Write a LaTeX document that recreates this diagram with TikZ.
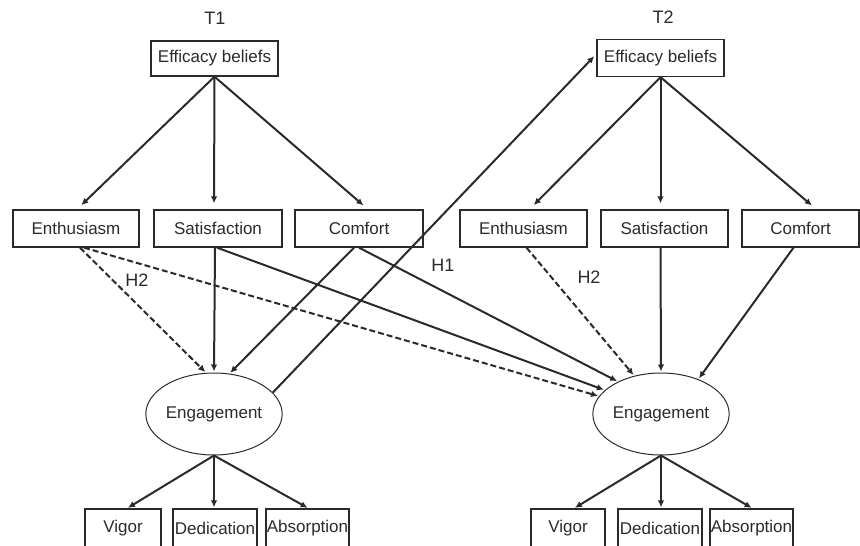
\documentclass[tikz,border=0pt]{standalone}
\usepackage{fontspec}
\setmainfont{Liberation Sans}
\usetikzlibrary{shapes.geometric,arrows.meta}
\definecolor{ink}{HTML}{2A2A2A}
\begin{document}
\begin{tikzpicture}[x=1pt,y=-1pt,
  every node/.style={font=\fontsize{17}{20}\selectfont, text=ink},
  box/.style={draw=ink, line width=1.3pt, rectangle, inner sep=0pt},
  eng/.style={draw=ink, line width=1pt, ellipse, inner sep=0pt, minimum width=134pt, minimum height=82pt},
  lbl/.style={font=\fontsize{18}{20}\selectfont},
  arr/.style={draw=ink, line width=2pt, -{Latex[length=7pt,width=6.5pt]}, shorten >=1pt},
  darr/.style={arr, dash pattern=on 6pt off 3pt}]
\useasboundingbox (0,0) rectangle (860,546);
\clip (0,0) rectangle (860,546);
% titles
\node[lbl] (t1) at (215,18) {T1};
\node[lbl] (t2) at (663,17) {T2};
% efficacy
\node[box, minimum width=127pt, minimum height=35pt] (eff1) at (214.5,58.5) {Efficacy beliefs};
\node[box, minimum width=127pt, minimum height=37pt] (eff2) at (660.5,58) {Efficacy beliefs};
% row 2 T1
\node[box, minimum width=126pt, minimum height=37pt] (en1) at (76,228.5) {Enthusiasm};
\node[box, minimum width=128pt, minimum height=37pt] (sa1) at (218,228.5) {Satisfaction};
\node[box, minimum width=128pt, minimum height=37pt] (co1) at (359,228.5) {Comfort};
% row 2 T2
\node[box, minimum width=127pt, minimum height=37pt] (en2) at (523.5,228.5) {Enthusiasm};
\node[box, minimum width=127pt, minimum height=37pt] (sa2) at (664.5,228.5) {Satisfaction};
\node[box, minimum width=117pt, minimum height=37pt] (co2) at (800.5,228.5) {Comfort};
% engagement
\node[eng] (eng1) at (214,414) {Engagement};
\node[eng] (eng2) at (661,414) {Engagement};
% indicators
\node[box, minimum width=76pt, minimum height=38pt] (vi1) at (123,528) {Vigor};
\node[box, minimum width=84pt, minimum height=38pt] (de1) at (215,528) {Dedication};
\node[box, minimum width=83pt, minimum height=38pt] (ab1) at (307.5,528) {Absorption};
\node[box, minimum width=74pt, minimum height=38pt] (vi2) at (568,528) {Vigor};
\node[box, minimum width=84pt, minimum height=38pt] (de2) at (660,528) {Dedication};
\node[box, minimum width=83pt, minimum height=38pt] (ab2) at (751.5,528) {Absorption};
% labels
\node[lbl] (h2a) at (137,280) {H2};
\node[lbl] (h1) at (443,265) {H1};
\node[lbl] (h2b) at (589,277) {H2};
% efficacy -> facets
\draw[arr, shorten >=6pt] (eff1.south) -- ([xshift=1pt]en1.north);
\draw[arr, shorten >=6pt] (eff1.south) -- ([xshift=-4pt]sa1.north);
\draw[arr, shorten >=6pt] (eff1.south) -- ([xshift=9pt]co1.north);
\draw[arr, shorten >=6pt] (eff2.south) -- ([xshift=6pt]en2.north);
\draw[arr, shorten >=6pt] (eff2.south) -- ([xshift=-4pt]sa2.north);
\draw[arr, shorten >=6pt] (eff2.south) -- ([xshift=16pt]co2.north);
% cross-lag engagement -> efficacy
\draw[arr, shorten >=3pt] (eng1.20) -- ([yshift=4pt]eff2.west);
% T1 facets -> T1 engagement
\draw[darr] ([xshift=4pt]en1.south) -- (eng1.101);
\draw[arr] ([xshift=-3pt]sa1.south) -- (eng1.90);
\draw[arr] ([xshift=-5pt]co1.south) -- (eng1.69);
% T1 facets -> T2 engagement
\draw[darr] ([xshift=8pt]en1.south) -- (eng2.164);
\draw[arr] ([xshift=-1pt]sa1.south) -- (eng2.157);
\draw[arr] (co1.south) -- (eng2.143.5);
% T2 facets -> T2 engagement
\draw[darr] ([xshift=3pt]en2.south) -- (eng2.125);
\draw[arr] ([xshift=-4pt]sa2.south) -- (eng2.90);
\draw[arr] ([xshift=-7pt]co2.south) -- (eng2.43);
% engagement -> indicators
\draw[arr] (eng1.south) -- ([xshift=4pt]vi1.north);
\draw[arr] (eng1.south) -- ([xshift=-1pt]de1.north);
\draw[arr] (eng1.south) -- ([xshift=1pt]ab1.north);
\draw[arr] (eng2.south) -- ([xshift=6pt]vi2.north);
\draw[arr] (eng2.south) -- ([xshift=1pt]de2.north);
\draw[arr] (eng2.south) -- ([xshift=1pt]ab2.north);
\end{tikzpicture}
\end{document}
